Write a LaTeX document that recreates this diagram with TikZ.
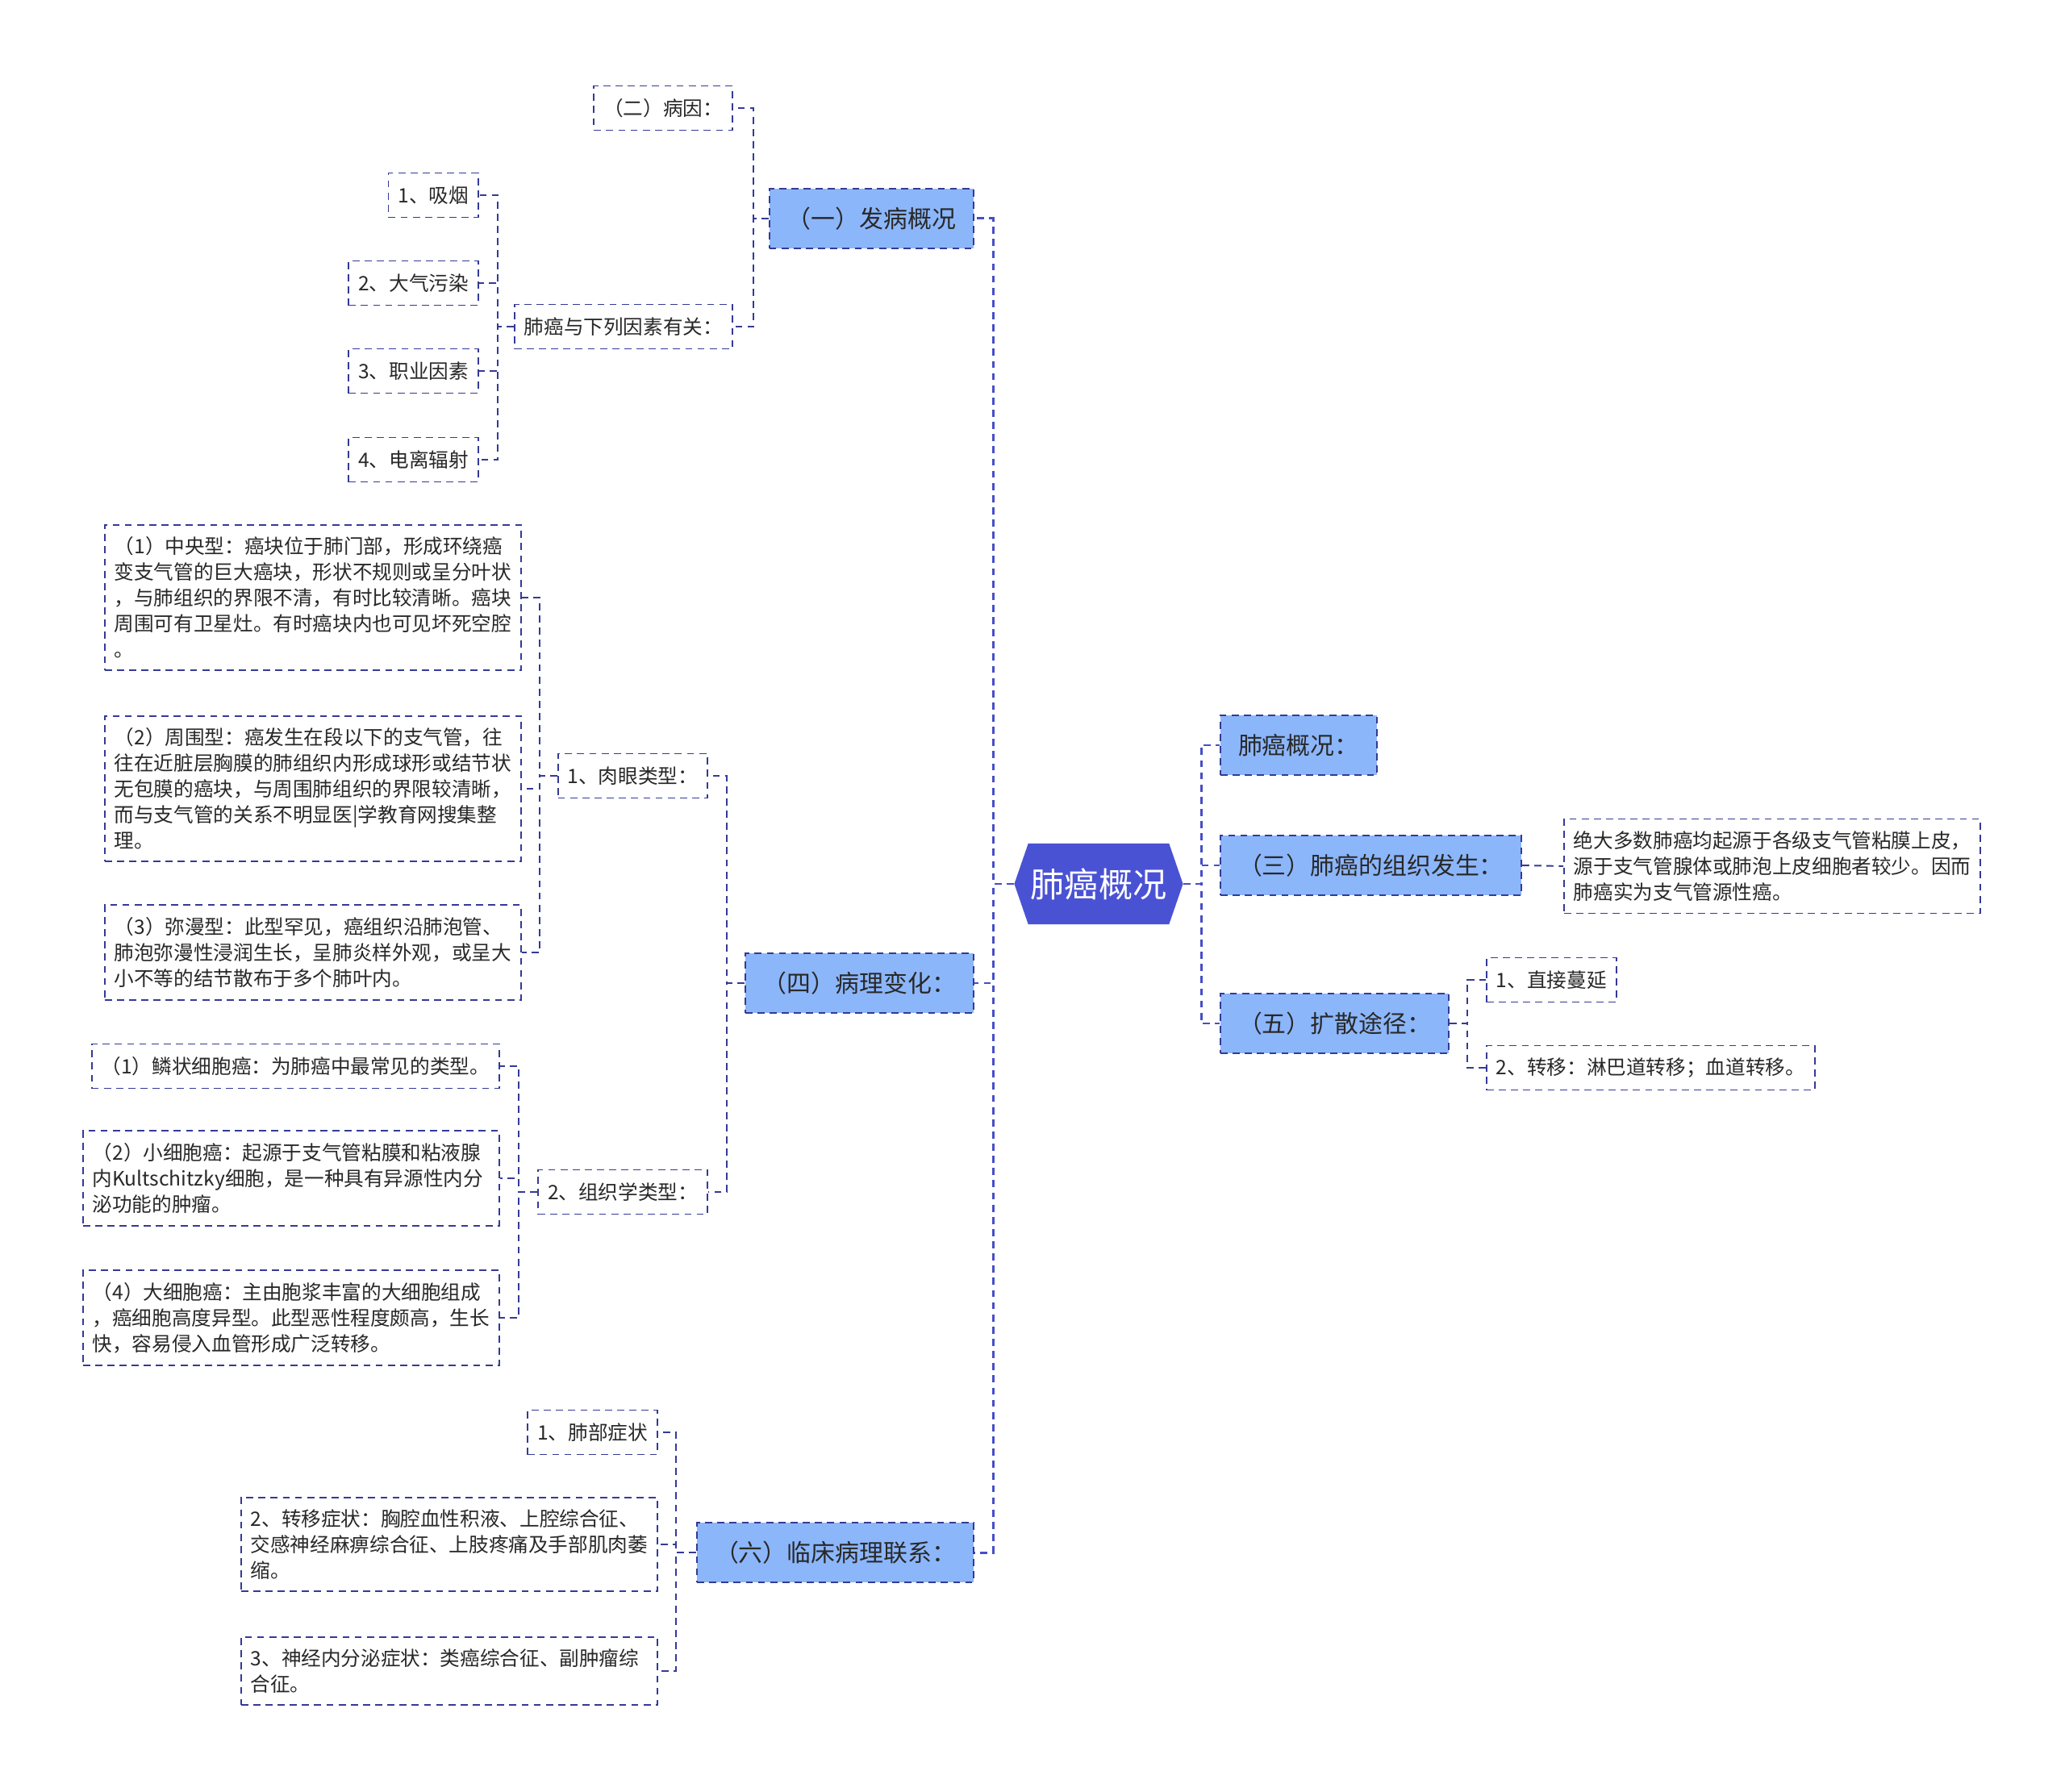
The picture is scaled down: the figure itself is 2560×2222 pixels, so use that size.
\documentclass[tikz,border=0pt]{standalone}
\usepackage{fontspec}
\newfontfamily\cjk{Noto Sans CJK SC}
\usetikzlibrary{shapes.symbols}
\definecolor{rootblue}{RGB}{74,82,212}
\definecolor{boxblue}{RGB}{140,182,250}
\definecolor{edgeblue}{RGB}{52,58,150}
\definecolor{linkblue}{RGB}{70,78,200}
\definecolor{txt}{RGB}{40,40,40}
\tikzset{
  dashline/.style={dash pattern=on 2.5pt off 1.8pt},
  root/.style={signal, signal to=west and east, signal pointer angle=142,
    fill=rootblue, text=white, font=\cjk\fontsize{12}{14}\selectfont,
    minimum height=1.0cm, minimum width=2.09cm, inner xsep=0.02cm},
  topic/.style={draw=edgeblue, dashline, line width=0.6pt, fill=boxblue,
    text=txt, font=\cjk\fontsize{8.5}{10}\selectfont,
    minimum height=0.74cm, inner xsep=0.22cm},
  leaf/.style={draw=edgeblue, dashline, line width=0.55pt, text=txt,
    font=\cjk\fontsize{7}{9.1}\selectfont, align=left,
    minimum height=0.55cm, inner xsep=0.12cm, inner ysep=0.15cm},
  para/.style={leaf, text width=4.92cm},
  mainlink/.style={draw=linkblue, dashline, line width=0.85pt},
  sublink/.style={draw=edgeblue, dashline, line width=0.55pt}
}
\begin{document}
\begin{tikzpicture}[x=0.01cm, y=-0.01cm]
  \fill[white] (0,0) rectangle (2560,2222);
  \useasboundingbox (0,0) rectangle (2560,2222);

  % centre
  \node[root] (lc) at (1362,1096) {肺癌概况};

  % first level, left
  \node[topic, anchor=east] (fa) at (1208,271)  {（一）发病概况};
  \node[topic, anchor=east] (bl) at (1208,1219) {（四）病理变化：};
  \node[topic, anchor=east] (lx) at (1208,1925) {（六）临床病理联系：};
  % first level, right
  \node[topic, anchor=west] (gk) at (1512,924)  {肺癌概况：};
  \node[topic, anchor=west] (zz) at (1512,1073) {（三）肺癌的组织发生：};
  \node[topic, anchor=west] (ks) at (1512,1269) {（五）扩散途径：};

  % (一)
  \node[leaf, anchor=east] (by) at (909,134) {（二）病因：};
  \node[leaf, anchor=east] (ys) at (909,405) {肺癌与下列因素有关：};
  \node[leaf, anchor=east] (y1) at (594,242) {1、吸烟};
  \node[leaf, anchor=east] (y2) at (594,351) {2、大气污染};
  \node[leaf, anchor=east] (y3) at (594,460) {3、职业因素};
  \node[leaf, anchor=east] (y4) at (594,570) {4、电离辐射};

  % (四)
  \node[leaf, anchor=east] (rl) at (878,962)  {1、肉眼类型：};
  \node[leaf, anchor=east] (zx) at (878,1478) {2、组织学类型：};
  \node[para, anchor=east] (r1) at (647,741) {（1）中央型：癌块位于肺门部，形成环绕癌\\变支气管的巨大癌块，形状不规则或呈分叶状\\，与肺组织的界限不清，有时比较清晰。癌块\\周围可有卫星灶。有时癌块内也可见坏死空腔\\。};
  \node[para, anchor=east] (r2) at (647,978) {（2）周围型：癌发生在段以下的支气管，往\\往在近脏层胸膜的肺组织内形成球形或结节状\\无包膜的癌块，与周围肺组织的界限较清晰，\\而与支气管的关系不明显医|学教育网搜集整\\理。};
  \node[para, anchor=east] (r3) at (647,1181) {（3）弥漫型：此型罕见，癌组织沿肺泡管、\\肺泡弥漫性浸润生长，呈肺炎样外观，或呈大\\小不等的结节散布于多个肺叶内。};
  \node[leaf, anchor=east] (z1) at (620,1322) {（1）鳞状细胞癌：为肺癌中最常见的类型。};
  \node[para, anchor=east] (z2) at (620,1461) {（2）小细胞癌：起源于支气管粘膜和粘液腺\\内Kultschitzky细胞，是一种具有异源性内分\\泌功能的肿瘤。};
  \node[para, anchor=east] (z4) at (620,1634) {（4）大细胞癌：主由胞浆丰富的大细胞组成\\，癌细胞高度异型。此型恶性程度颇高，生长\\快，容易侵入血管形成广泛转移。};

  % (六)
  \node[leaf, anchor=east] (c1) at (816,1776) {1、肺部症状};
  \node[para, anchor=east] (c2) at (816,1915) {2、转移症状：胸腔血性积液、上腔综合征、\\交感神经麻痹综合征、上肢疼痛及手部肌肉萎\\缩。};
  \node[para, anchor=east] (c3) at (816,2072) {3、神经内分泌症状：类癌综合征、副肿瘤综\\合征。};

  % right side
  \node[para, anchor=west] (zs) at (1938,1074) {绝大多数肺癌均起源于各级支气管粘膜上皮，\\源于支气管腺体或肺泡上皮细胞者较少。因而\\肺癌实为支气管源性癌。};
  \node[leaf, anchor=west] (k1) at (1842,1215) {1、直接蔓延};
  \node[leaf, anchor=west] (k2) at (1842,1324) {2、转移：淋巴道转移；血道转移。};

  % spines
  \coordinate (sl)  at (1231,0);
  \coordinate (sr)  at (1489,0);
  \coordinate (sfa) at (934,0);
  \coordinate (sys) at (617,0);
  \coordinate (sbl) at (901,0);
  \coordinate (srl) at (669,0);
  \coordinate (szx) at (643,0);
  \coordinate (slx) at (838,0);
  \coordinate (sks) at (1819,0);

  % connectors
  \foreach \n in {fa,bl,lx}
    \draw[mainlink] (lc.west) -- (lc.west -| sl) |- (\n.east);
  \foreach \n in {gk,zz,ks}
    \draw[mainlink] (lc.east) -- (lc.east -| sr) |- (\n.west);
  \foreach \n in {by,ys}
    \draw[sublink] (fa.west) -- (fa.west -| sfa) |- (\n.east);
  \foreach \n in {y1,y2,y3,y4}
    \draw[sublink] (ys.west) -- (ys.west -| sys) |- (\n.east);
  \foreach \n in {rl,zx}
    \draw[sublink] (bl.west) -- (bl.west -| sbl) |- (\n.east);
  \foreach \n in {r1,r2,r3}
    \draw[sublink] (rl.west) -- (rl.west -| srl) |- (\n.east);
  \foreach \n in {z1,z2,z4}
    \draw[sublink] (zx.west) -- (zx.west -| szx) |- (\n.east);
  \foreach \n in {c1,c2,c3}
    \draw[sublink] (lx.west) -- (lx.west -| slx) |- (\n.east);
  \foreach \n in {k1,k2}
    \draw[sublink] (ks.east) -- (ks.east -| sks) |- (\n.west);
  \draw[sublink] (zz.east) -- (zs.west);
\end{tikzpicture}
\end{document}
